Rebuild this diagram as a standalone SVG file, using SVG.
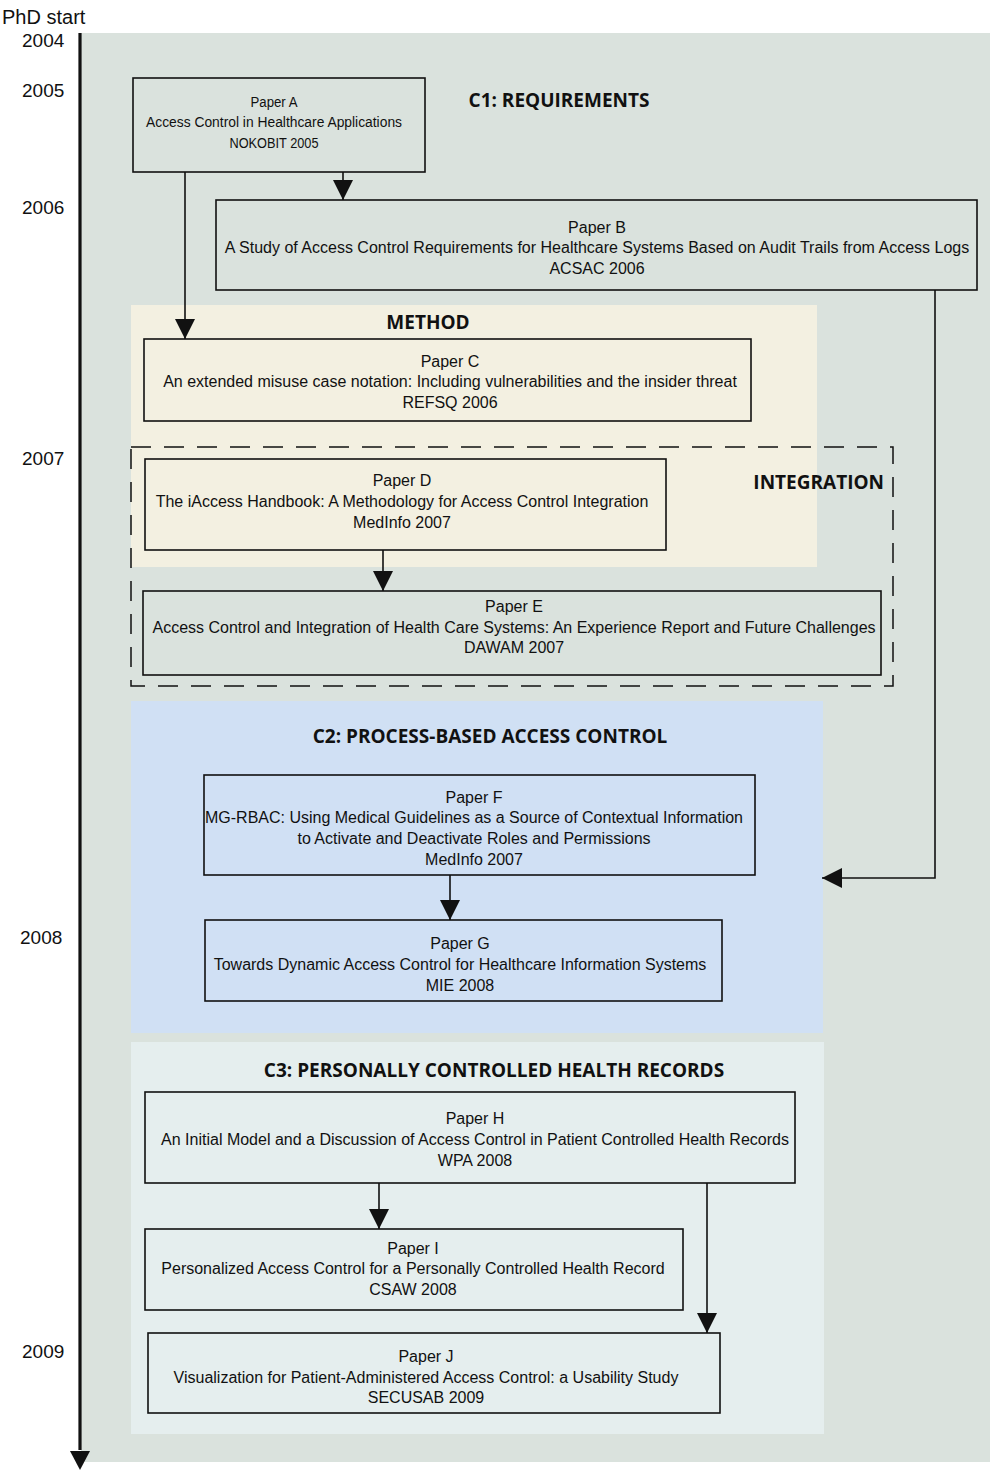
<svg xmlns="http://www.w3.org/2000/svg" width="990" height="1470" viewBox="0 0 990 1470">
  <style>
    .box { stroke: #111; stroke-width: 1.6; }
    .t { font-family: "Liberation Sans", Arial, sans-serif; font-size: 16px; fill: #111; text-anchor: middle; }
    .ta { font-family: "Liberation Sans", Arial, sans-serif; font-size: 15.5px; fill: #111; text-anchor: middle; }
    .h { font-family: "Open Sans", "Liberation Sans", Arial, sans-serif; font-size: 19px; font-weight: bold; fill: #111; text-anchor: middle; }
    .h.end { text-anchor: end; }
    .yr { font-family: "Liberation Sans", Arial, sans-serif; font-size: 19px; fill: #111; }
    .yr.big { font-size: 20px; }
    .conn { fill: none; stroke: #111; stroke-width: 1.6; }
  </style>
  <defs>
    <marker id="arrBig" viewBox="0 0 10 10" refX="10" refY="5" markerWidth="20" markerHeight="20" markerUnits="userSpaceOnUse" orient="auto">
      <path d="M0,0 L10,5 L0,10 Z" fill="#111"/>
    </marker>
  </defs>

  <!-- background and thematic areas -->
  <rect x="0" y="0" width="990" height="1470" fill="#ffffff"/>
  <rect x="81" y="33" width="909" height="1429" fill="#dae2dd"/>
  <rect x="131" y="305" width="686" height="262" fill="#f3f0e1"/>
  <rect x="131" y="701" width="692" height="332" fill="#d0e0f4"/>
  <rect x="131" y="1042" width="693" height="392" fill="#e5eeee"/>

  <!-- timeline -->
  <g id="timeline">
    <line x1="80" y1="33" x2="80" y2="1450" stroke="#111" stroke-width="3.2"/>
    <path d="M70,1451 L90,1451 L80,1470 Z" fill="#111"/>
    <text class="yr big" x="2" y="24">PhD start</text>
    <text class="yr" x="22" y="47">2004</text>
    <text class="yr" x="22" y="97">2005</text>
    <text class="yr" x="22" y="214">2006</text>
    <text class="yr" x="22" y="465">2007</text>
    <text class="yr" x="20" y="944">2008</text>
    <text class="yr" x="22" y="1358">2009</text>
  </g>

  <!-- section headings -->
  <g id="headings">
    <text class="h" x="559" y="107">C1: REQUIREMENTS</text>
    <text class="h" x="428" y="329">METHOD</text>
    <text class="h end" x="884" y="489">INTEGRATION</text>
    <text class="h" x="490" y="743">C2: PROCESS-BASED ACCESS CONTROL</text>
    <text class="h" x="494" y="1077">C3: PERSONALLY CONTROLLED HEALTH RECORDS</text>
  </g>

  <!-- integration grouping -->
  <rect id="integration" x="131" y="447" width="762" height="239" fill="none" stroke="#111" stroke-width="1.5" stroke-dasharray="20,13"/>

  <g id="paperA">
    <rect class="box" x="133" y="78" width="292" height="94" fill="#dae2dd"/>
    <text class="ta" x="274" y="107" textLength="47" lengthAdjust="spacingAndGlyphs">Paper A</text>
    <text class="ta" x="274" y="127" textLength="256" lengthAdjust="spacingAndGlyphs">Access Control in Healthcare Applications</text>
    <text class="ta" x="274" y="148" textLength="89" lengthAdjust="spacingAndGlyphs">NOKOBIT 2005</text>
  </g>
  <g id="paperB">
    <rect class="box" x="216" y="200" width="761" height="90" fill="#dae2dd"/>
    <text class="t" x="597" y="233">Paper B</text>
    <text class="t" x="597" y="253">A Study of Access Control Requirements for Healthcare Systems Based on Audit Trails from Access Logs</text>
    <text class="t" x="597" y="274">ACSAC 2006</text>
  </g>
  <g id="paperC">
    <rect class="box" x="144" y="339" width="607" height="82" fill="#f3f0e1"/>
    <text class="t" x="450" y="367">Paper C</text>
    <text class="t" x="450" y="387">An extended misuse case notation: Including vulnerabilities and the insider threat</text>
    <text class="t" x="450" y="408">REFSQ 2006</text>
  </g>
  <g id="paperD">
    <rect class="box" x="145" y="459" width="521" height="91" fill="#f3f0e1"/>
    <text class="t" x="402" y="486">Paper D</text>
    <text class="t" x="402" y="507">The iAccess Handbook: A Methodology for Access Control Integration</text>
    <text class="t" x="402" y="528">MedInfo 2007</text>
  </g>
  <g id="paperE">
    <rect class="box" x="143" y="591" width="738" height="84" fill="#dae2dd"/>
    <text class="t" x="514" y="612">Paper E</text>
    <text class="t" x="514" y="633">Access Control and Integration of Health Care Systems: An Experience Report and Future Challenges</text>
    <text class="t" x="514" y="653">DAWAM 2007</text>
  </g>
  <g id="paperF">
    <rect class="box" x="204" y="775" width="551" height="100" fill="#d0e0f4"/>
    <text class="t" x="474" y="803">Paper F</text>
    <text class="t" x="474" y="823">MG-RBAC: Using Medical Guidelines as a Source of Contextual Information</text>
    <text class="t" x="474" y="844">to Activate and Deactivate Roles and Permissions</text>
    <text class="t" x="474" y="865">MedInfo 2007</text>
  </g>
  <g id="paperG">
    <rect class="box" x="205" y="920" width="517" height="81" fill="#d0e0f4"/>
    <text class="t" x="460" y="949">Paper G</text>
    <text class="t" x="460" y="970">Towards Dynamic Access Control for Healthcare Information Systems</text>
    <text class="t" x="460" y="991">MIE 2008</text>
  </g>
  <g id="paperH">
    <rect class="box" x="145" y="1092" width="650" height="91" fill="#e5eeee"/>
    <text class="t" x="475" y="1124">Paper H</text>
    <text class="t" x="475" y="1145">An Initial Model and a Discussion of Access Control in Patient Controlled Health Records</text>
    <text class="t" x="475" y="1166">WPA 2008</text>
  </g>
  <g id="paperI">
    <rect class="box" x="145" y="1229" width="538" height="81" fill="#e5eeee"/>
    <text class="t" x="413" y="1254">Paper I</text>
    <text class="t" x="413" y="1274">Personalized Access Control for a Personally Controlled Health Record</text>
    <text class="t" x="413" y="1295">CSAW 2008</text>
  </g>
  <g id="paperJ">
    <rect class="box" x="148" y="1333" width="572" height="80" fill="#e5eeee"/>
    <text class="t" x="426" y="1362">Paper J</text>
    <text class="t" x="426" y="1383">Visualization for Patient-Administered Access Control: a Usability Study</text>
    <text class="t" x="426" y="1403">SECUSAB 2009</text>
  </g>

  <!-- connectors -->
  <g id="connectors">
    <path class="conn" d="M185,172 V339" marker-end="url(#arrBig)"/>
    <path class="conn" d="M343,172 V200" marker-end="url(#arrBig)"/>
    <path class="conn" d="M935,290 V878 H822" marker-end="url(#arrBig)"/>
    <path class="conn" d="M383,550 V591" marker-end="url(#arrBig)"/>
    <path class="conn" d="M450,875 V920" marker-end="url(#arrBig)"/>
    <path class="conn" d="M379,1183 V1229" marker-end="url(#arrBig)"/>
    <path class="conn" d="M707,1183 V1333" marker-end="url(#arrBig)"/>
  </g>
</svg>
